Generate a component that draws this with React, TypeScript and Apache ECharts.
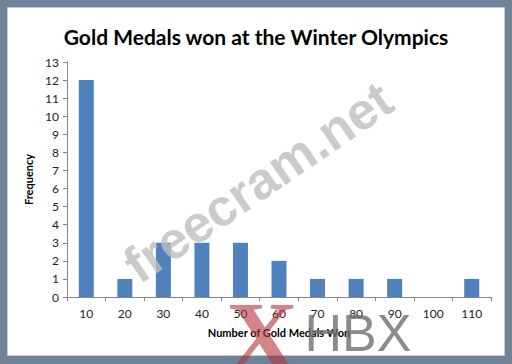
import React, { useEffect, useRef } from "react";
import * as echarts from "echarts";

const categories = ["10", "20", "30", "40", "50", "60", "70", "80", "90", "100", "110"];
const frequency = [12, 1, 3, 3, 3, 2, 1, 1, 1, 0, 1];
const yTicks = { min: 0, max: 13, interval: 1 };
const titleText = "Gold Medals won at the Winter Olympics";
const xName = "Number of Gold Medals Won";
const yName = "Frequency";

export default function App() {
  const ref = useRef<HTMLDivElement>(null);
  useEffect(() => {
    if (!ref.current) return;
    const chart = echarts.init(ref.current, undefined, { renderer: "svg" });
    const labelFont = "Lato, 'Open Sans', sans-serif";
    chart.setOption({
      animation: false,
      backgroundColor: "#6f8296",
      title: {
        text: titleText,
        left: "center",
        top: 21,
        textStyle: { fontFamily: labelFont, fontWeight: "bold", fontSize: 21, color: "#000" },
      },
      grid: { left: 67, right: 21, top: 62, bottom: 67 },
      xAxis: {
        type: "category",
        data: categories,
        name: xName,
        nameLocation: "middle",
        nameGap: 30,
        nameTextStyle: { fontFamily: labelFont, fontWeight: "bold", fontSize: 11, color: "#000" },
        axisLine: { lineStyle: { color: "#868686" } },
        axisTick: { show: true, length: 4, lineStyle: { color: "#868686" } },
        axisLabel: { fontFamily: labelFont, fontSize: 12, color: "#222", margin: 10 },
      },
      yAxis: {
        type: "value",
        min: yTicks.min,
        max: yTicks.max,
        interval: yTicks.interval,
        name: yName,
        nameLocation: "middle",
        nameGap: 24,
        nameRotate: 90,
        nameTextStyle: { fontFamily: labelFont, fontWeight: "bold", fontSize: 11, color: "#000" },
        axisLine: { show: true, lineStyle: { color: "#868686" } },
        axisTick: { show: true, length: 4, lineStyle: { color: "#868686" } },
        splitLine: { show: false },
        axisLabel: { fontFamily: labelFont, fontSize: 12, color: "#222", margin: 8 },
      },
      series: [
        {
          type: "bar",
          data: frequency,
          barWidth: 15,
          itemStyle: { color: "#4f81bd" },
        },
      ],
      graphic: [
        {
          type: "rect",
          z: -10,
          shape: { x: 7.5, y: 7.5, width: 497, height: 348 },
          style: { fill: "#ffffff", stroke: "#c8c8c8", lineWidth: 1 },
        },
        {
          type: "text",
          z: 100,
          x: 258,
          y: 182,
          rotation: 0.6,
          style: {
            text: "freecram.net",
            fontFamily: "'Liberation Sans', Arial, sans-serif",
            fontWeight: "bold",
            fontSize: 52,
            fill: "rgba(190,190,190,0.8)",
            align: "center",
            verticalAlign: "middle",
          },
        },
        {
          type: "text",
          z: 99,
          x: 262,
          y: 336,
          style: {
            text: "X",
            fontFamily: "'Liberation Serif', serif",
            fontWeight: "bold",
            fontSize: 100,
            fill: "rgba(180,50,60,0.6)",
            align: "center",
            verticalAlign: "middle",
          },
        },
        {
          type: "text",
          z: 99,
          x: 358,
          y: 333,
          style: {
            text: "HBX",
            fontFamily: "'Liberation Sans', Arial, sans-serif",
            fontSize: 52,
            fill: "rgba(110,110,110,0.8)",
            align: "center",
            verticalAlign: "middle",
          },
        },
      ],
    });
    return () => chart.dispose();
  }, []);
  return <div ref={ref} style={{ position: "fixed", left: 0, top: 0, width: 512, height: 364 }} />;
}
